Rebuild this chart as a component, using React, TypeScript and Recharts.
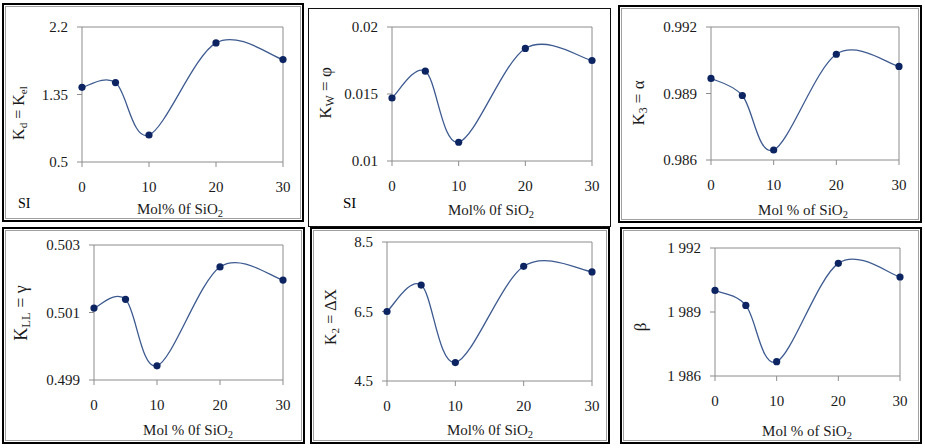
import React from 'react'
import { LineChart, Line, XAxis, YAxis, ReferenceLine } from 'recharts'

// mol % of SiO2 in the glass series
const molPct = [0, 5, 10, 20, 30]
const xTicks = [0, 10, 20, 30]

// coefficients read per panel
const kdKel = [1.44, 1.5, 0.84, 2.0, 1.79]
const kwPhi = [0.0147, 0.0167, 0.0114, 0.0184, 0.0175]
const k3Alpha = [0.98968, 0.98891, 0.98645, 0.99077, 0.99022]
const kllGamma = [0.50113, 0.50139, 0.49942, 0.50235, 0.50196]
const k2DeltaX = [6.5, 7.26, 5.03, 7.8, 7.64]
const beta = [1.99001, 1.98931, 1.98667, 1.99128, 1.99064]

const kdTicks = [0.5, 1.35, 2.2]
const kwTicks = [0.01, 0.015, 0.02]
const k3Ticks = [0.986, 0.989, 0.992]
const kllTicks = [0.499, 0.501, 0.503]
const k2Ticks = [4.5, 6.5, 8.5]
const betaTicks = [1.986, 1.989, 1.992]

const SERIF = '"Liberation Serif", "Times New Roman", serif'
const AXIS = '#8c8c8c'
const LINE = '#3d5a90'
const DOT = '#0c2461'

// spreadsheet-style smoothed line: Catmull-Rom segments as cubic beziers
function smoothCurve(context: any) {
  let pts: [number, number][] = []
  return {
    areaStart() {},
    areaEnd() {},
    lineStart() { pts = [] },
    point(x: number, y: number) { pts.push([+x, +y]) },
    lineEnd() {
      if (!pts.length) return
      context.moveTo(pts[0][0], pts[0][1])
      for (let i = 0; i < pts.length - 1; i++) {
        const p0 = pts[i - 1] ?? pts[i]
        const p1 = pts[i]
        const p2 = pts[i + 1]
        const p3 = pts[i + 2] ?? p2
        context.bezierCurveTo(
          p1[0] + (p2[0] - p0[0]) / 6, p1[1] + (p2[1] - p0[1]) / 6,
          p2[0] - (p3[0] - p1[0]) / 6, p2[1] - (p3[1] - p1[1]) / 6,
          p2[0], p2[1],
        )
      }
    },
  }
}

type Box = { x: number; y: number; w: number; h: number }
type Plot = { left: number; top: number; right: number; bottom: number }

interface PanelProps {
  box: Box
  plot: Plot
  values: number[]
  ticks: number[]
  fmt?: (v: number) => string
  yLabel: React.ReactNode
  yLabelAt: [number, number]
  yLabelSize: number
  xLabel: React.ReactNode
  xLabelAt: [number, number]
  thin?: boolean
  children?: React.ReactNode
}

function Panel({ box, plot, values, ticks, fmt, yLabel, yLabelAt, yLabelSize, xLabel, xLabelAt, thin, children }: PanelProps) {
  const data = molPct.map((m, i) => ({ x: m, y: values[i] }))
  const domain: [number, number] = [ticks[0], ticks[ticks.length - 1]]
  const leftGap = plot.left - box.x
  const topGap = plot.top - box.y
  const rightGap = box.x + box.w - plot.right
  const bottomGap = box.y + box.h - plot.bottom
  const tickStyle = { fill: '#1a1a1a', fontSize: 15, fontFamily: SERIF }

  return (
    <div style={{ position: 'absolute', left: box.x, top: box.y, width: box.w, height: box.h }}>
      <LineChart
        width={box.w}
        height={box.h}
        data={data}
        margin={{ top: topGap, right: rightGap, bottom: 0, left: 0 }}
      >
        <XAxis
          dataKey="x"
          type="number"
          domain={[0, 30]}
          ticks={xTicks}
          interval={0}
          height={bottomGap}
          stroke={AXIS}
          tickSize={5}
          tickMargin={14}
          tick={tickStyle}
        />
        <YAxis
          type="number"
          domain={domain}
          ticks={ticks}
          interval={0}
          width={leftGap}
          stroke={AXIS}
          tickSize={5}
          tickMargin={9}
          tick={tickStyle}
          tickFormatter={fmt ?? (v => String(v))}
        />
        <ReferenceLine y={domain[1]} stroke={AXIS} />
        <ReferenceLine x={30} stroke={AXIS} />
        <Line
          type={smoothCurve as any}
          dataKey="y"
          stroke={LINE}
          strokeWidth={1.3}
          dot={{ r: 3.6, fill: DOT, stroke: DOT, strokeWidth: 0 }}
          isAnimationActive={false}
        />
      </LineChart>

      <div style={{
        position: 'absolute', left: yLabelAt[0] - box.x, top: yLabelAt[1] - box.y,
        transform: 'translate(-50%, -50%) rotate(-90deg)', whiteSpace: 'nowrap',
        fontFamily: SERIF, fontSize: yLabelSize, color: '#1a1a1a', lineHeight: 1,
      }}>
        {yLabel}
      </div>
      <div style={{
        position: 'absolute', left: xLabelAt[0] - box.x, top: xLabelAt[1] - box.y,
        transform: 'translate(-50%, -50%)', whiteSpace: 'nowrap',
        fontFamily: SERIF, fontSize: 15, color: '#1a1a1a', lineHeight: 1,
      }}>
        {xLabel}
      </div>
      {children}

      <div style={{
        position: 'absolute', inset: 0, boxSizing: 'border-box',
        border: thin ? '1.5px solid #111' : '2px solid #000',
        boxShadow: thin ? 'none' : 'inset 0 0 0 1px #fff, inset 0 0 0 2px #a0a0a0',
      }} />
    </div>
  )
}

const sub = (t: string) => <sub style={{ fontSize: '0.7em', verticalAlign: '-0.25em' }}>{t}</sub>
const sio2 = (prefix: string) => <span>{prefix}SiO{sub('2')}</span>

export default function App() {
  return (
    <div style={{ position: 'fixed', left: 0, top: 0, width: 925, height: 448, background: '#fff', overflow: 'hidden' }}>
      <Panel
        box={{ x: 2, y: 3, w: 302, h: 219 }}
        plot={{ left: 82, top: 27, right: 283, bottom: 162 }}
        values={kdKel}
        ticks={kdTicks}
        yLabel={<span>K{sub('d')} = K{sub('el')}</span>}
        yLabelAt={[20, 113]}
        yLabelSize={16}
        xLabel={sio2('Mol% 0f ')}
        xLabelAt={[180, 211]}
      >
        <div style={{ position: 'absolute', left: 16, top: 193, fontFamily: SERIF, fontSize: 14 }}>SI</div>
      </Panel>

      <Panel
        box={{ x: 308, y: 8, w: 303, h: 219 }}
        plot={{ left: 392, top: 27, right: 592, bottom: 161 }}
        values={kwPhi}
        ticks={kwTicks}
        yLabel={<span>K{sub('W')} = φ</span>}
        yLabelAt={[327, 93]}
        yLabelSize={17}
        xLabel={sio2('Mol% 0f ')}
        xLabelAt={[491, 212]}
        thin
      >
        <div style={{ position: 'absolute', left: 35, top: 187, fontFamily: SERIF, fontSize: 15 }}>SI</div>
      </Panel>

      <Panel
        box={{ x: 618, y: 5, w: 304, h: 218 }}
        plot={{ left: 711, top: 27, right: 899, bottom: 160 }}
        values={k3Alpha}
        ticks={k3Ticks}
        yLabel={<span>K{sub('3')} = α</span>}
        yLabelAt={[640, 103]}
        yLabelSize={17}
        xLabel={sio2('Mol % of ')}
        xLabelAt={[803, 212]}
      />

      <Panel
        box={{ x: 2, y: 227, w: 303, h: 217 }}
        plot={{ left: 94, top: 245, right: 283, bottom: 380 }}
        values={kllGamma}
        ticks={kllTicks}
        yLabel={<span>K{sub('LL')} = γ</span>}
        yLabelAt={[22, 313]}
        yLabelSize={18}
        xLabel={sio2('Mol % 0f ')}
        xLabelAt={[188, 432]}
      />

      <Panel
        box={{ x: 310, y: 227, w: 300, h: 217 }}
        plot={{ left: 387, top: 242, right: 592, bottom: 381 }}
        values={k2DeltaX}
        ticks={k2Ticks}
        yLabel={<span>K{sub('2')} = ΔX</span>}
        yLabelAt={[332, 317]}
        yLabelSize={16}
        xLabel={sio2('Mol% 0f ')}
        xLabelAt={[490, 432]}
      />

      <Panel
        box={{ x: 620, y: 227, w: 302, h: 217 }}
        plot={{ left: 715, top: 248, right: 900, bottom: 376 }}
        values={beta}
        ticks={betaTicks}
        fmt={v => v.toFixed(3).replace('.', ' ')}
        yLabel={<span>β</span>}
        yLabelAt={[640, 327]}
        yLabelSize={17}
        xLabel={sio2('Mol % of ')}
        xLabelAt={[807, 433]}
      />
    </div>
  )
}
